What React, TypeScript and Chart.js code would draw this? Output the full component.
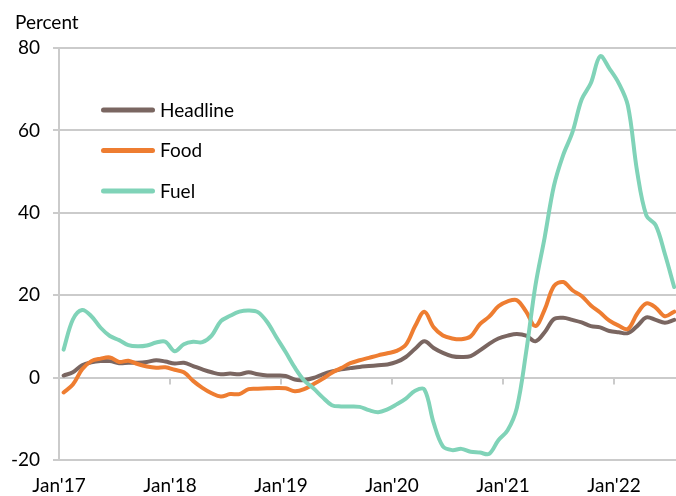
import { useEffect, useRef } from "react";
import { Chart, registerables } from "chart.js";

Chart.register(...registerables);

// Monthly data, Jan'17 .. Jul'22 (67 months), percent y/y
const HEADLINE = [
  0.5, 1.3, 3.0, 3.7, 4.0, 4.0, 3.5, 3.6, 3.6, 3.8, 4.2, 3.9,
  3.4, 3.6, 2.8, 2.0, 1.3, 0.8, 1.0, 0.8, 1.3, 0.8, 0.5, 0.5,
  0.4, -0.5, -0.6, -0.1, 0.8, 1.5, 2.0, 2.3, 2.6, 2.8, 3.0, 3.2,
  3.8, 5.0, 7.0, 8.8, 7.2, 6.0, 5.2, 5.0, 5.2, 6.6, 8.2, 9.5,
  10.2, 10.6, 10.2, 8.8, 11.0, 14.2, 14.5, 14.0, 13.4, 12.5, 12.2, 11.3,
  11.0, 10.8, 12.5, 14.6, 14.0, 13.3, 14.0,
];
const FOOD = [
  -3.6, -1.7, 2.0, 4.0, 4.6, 4.9, 3.8, 4.1, 3.3, 2.7, 2.4, 2.5,
  1.9, 1.3, -0.8, -2.5, -3.8, -4.6, -4.0, -4.0, -2.8, -2.7, -2.6, -2.5,
  -2.6, -3.3, -2.8, -1.6, -0.3, 1.2, 2.3, 3.5, 4.2, 4.8, 5.4, 5.9,
  6.5, 8.0, 12.5, 16.0, 12.2, 10.2, 9.5, 9.3, 10.0, 13.0, 14.8, 17.3,
  18.5, 18.8, 16.0, 12.5, 16.5, 22.2, 23.2, 21.2, 19.8, 17.5, 15.8, 13.8,
  12.6, 11.8, 15.5, 18.0, 17.0, 14.9, 16.0,
];
const FUEL = [
  6.8, 14.1, 16.4, 14.9, 12.1, 10.1, 9.1, 7.9, 7.6, 7.8, 8.5, 8.7,
  6.4, 8.1, 8.7, 8.6, 10.2, 13.7, 15.0, 16.0, 16.3, 15.9, 13.5, 9.8,
  6.2, 2.4, -0.7, -2.6, -4.8, -6.7, -7.0, -7.0, -7.1, -7.9, -8.4, -7.7,
  -6.5, -5.1, -3.2, -2.9, -11.0, -16.7, -17.6, -17.3, -18.0, -18.2, -18.5, -15.2,
  -12.8, -7.3, 6.2, 22.3, 34.0, 46.5, 54.0, 59.5, 67.5, 71.5, 78.0, 75.0,
  71.5, 66.0, 50.0, 39.3, 37.0, 30.0, 22.0,
];
const TICK_LABELS = ["Jan'17", "Jan'18", "Jan'19", "Jan'20", "Jan'21", "Jan'22"];
const SERIES_NAMES = ["Headline", "Food", "Fuel"];
const COLORS = ["#7a6661", "#ee7d31", "#80d3b8"];

const GRID = "#cbcbcb";
const FONT = "Lato, 'Open Sans', sans-serif";
const FONT_SIZE = 19;

// Ticks sit at the start of each January; monthly points sit mid-month.
const tickValues = TICK_LABELS.map((_, i) => i * 12 - 0.5);

const overlay = {
  id: "overlay",
  beforeDatasetsDraw(chart: any) {
    const { ctx } = chart;
    const x = chart.scales.x;
    const y0 = chart.scales.y.getPixelForValue(0);
    ctx.save();
    ctx.strokeStyle = GRID;
    ctx.lineWidth = 2;
    tickValues.slice(1).forEach((v) => {
      const px = Math.round(x.getPixelForValue(v));
      ctx.beginPath();
      ctx.moveTo(px, y0);
      ctx.lineTo(px, y0 + 7);
      ctx.stroke();
    });
    ctx.restore();
  },
  afterDraw(chart: any) {
    const { ctx } = chart;
    ctx.save();
    ctx.font = `${FONT_SIZE}px ${FONT}`;
    ctx.fillStyle = "#000";
    ctx.textBaseline = "alphabetic";
    ctx.textAlign = "left";
    ctx.fillText("Percent", 15, 29);
    SERIES_NAMES.forEach((name, i) => {
      const ly = 110 + i * 40.5;
      ctx.strokeStyle = COLORS[i];
      ctx.lineWidth = 5;
      ctx.lineCap = "round";
      ctx.beginPath();
      ctx.moveTo(103.5, ly);
      ctx.lineTo(152.5, ly);
      ctx.stroke();
      ctx.fillStyle = "#000";
      ctx.fillText(name, 160, ly + 6.5);
    });
    ctx.restore();
  },
};

export default function App() {
  const ref = useRef<HTMLCanvasElement>(null);

  useEffect(() => {
    if (!ref.current) return;
    const series = [HEADLINE, FOOD, FUEL];
    const chart = new Chart(ref.current, {
      type: "line",
      data: {
        datasets: series.map((arr, i) => ({
          label: SERIES_NAMES[i],
          data: arr.map((v, m) => ({ x: m, y: v })),
          borderColor: COLORS[i],
          backgroundColor: COLORS[i],
          borderWidth: 4,
          pointRadius: 0,
          tension: 0.35,
          borderCapStyle: "round",
          borderJoinStyle: "round",
          fill: false,
          order: 2 - i,
        })),
      },
      options: {
        animation: false,
        responsive: false,
        devicePixelRatio: 1,
        layout: { padding: { top: 48, right: 0, left: 0, bottom: 0 }, autoPadding: false },
        plugins: { legend: { display: false }, tooltip: { enabled: false } },
        scales: {
          x: {
            type: "linear",
            min: -0.5,
            max: 66.2,
            afterBuildTicks: (s: any) => {
              s.ticks = tickValues.map((v) => ({ value: v }));
            },
            afterFit: (s: any) => {
              s.height = 36;
            },
            ticks: {
              callback: (_v: any, i: number) => TICK_LABELS[i],
              autoSkip: false,
              maxRotation: 0,
              font: { family: FONT, size: FONT_SIZE },
              color: "#000",
              padding: 14,
            },
            grid: { display: false, drawTicks: false },
            border: { display: false },
          },
          y: {
            min: -20,
            max: 80,
            afterFit: (s: any) => {
              s.width = 59;
            },
            ticks: {
              stepSize: 20,
              font: { family: FONT, size: FONT_SIZE },
              color: "#000",
              padding: 13,
            },
            grid: { color: GRID, lineWidth: 2, tickLength: 6, drawTicks: true },
            border: { display: true, color: GRID, width: 2 },
          },
        },
      },
      plugins: [overlay],
    } as any);
    return () => chart.destroy();
  }, []);

  return (
    <div style={{ position: "fixed", left: 0, top: 0, width: 676, height: 496, background: "#fff" }}>
      <canvas ref={ref} width={676} height={496} style={{ display: "block" }} />
    </div>
  );
}
